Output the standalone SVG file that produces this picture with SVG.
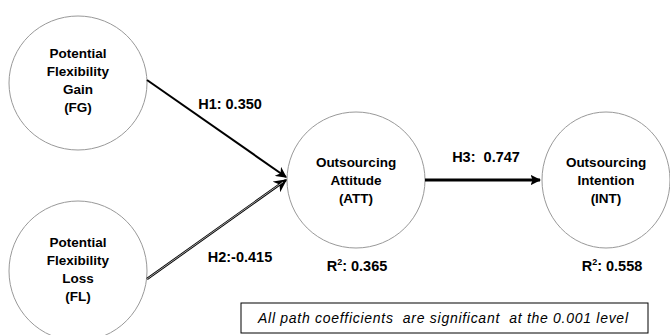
<svg xmlns="http://www.w3.org/2000/svg" width="670" height="335" viewBox="0 0 670 335">
<defs>
<marker id="ah" viewBox="0 0 10 10" refX="9" refY="5" markerWidth="5.5" markerHeight="5.5" orient="auto" markerUnits="strokeWidth">
<path d="M0,0 L10,5 L0,10 L3,5 Z" fill="#000"/>
</marker>
<marker id="ah3" viewBox="0 0 10 10" refX="9" refY="5" markerWidth="3.5" markerHeight="3.5" orient="auto" markerUnits="strokeWidth">
<path d="M0,0 L10,5 L0,10 L2,5 Z" fill="#000"/>
</marker>
</defs>
<style>
.node{fill:#fff;stroke:#999;stroke-width:1}
.nt{font-family:"Liberation Sans",Arial,sans-serif;font-weight:bold;font-size:13.5px;text-anchor:middle;fill:#000}
.lb{font-family:"Liberation Sans",Arial,sans-serif;font-weight:bold;font-size:14.5px;text-anchor:middle;fill:#000}
.note{font-family:"Liberation Sans",Arial,sans-serif;font-style:italic;font-size:14px;fill:#000}
</style>
<rect width="670" height="335" fill="#fff"/>
<g id="FG">
<ellipse class="node" cx="78" cy="83" rx="69" ry="67"/>
<text class="nt" x="78" y="58">Potential</text>
<text class="nt" x="78" y="76">Flexibility</text>
<text class="nt" x="78" y="94">Gain</text>
<text class="nt" x="78" y="112">(FG)</text>
</g>
<g id="FL">
<ellipse class="node" cx="78" cy="271" rx="69" ry="70"/>
<text class="nt" x="78" y="247">Potential</text>
<text class="nt" x="78" y="265">Flexibility</text>
<text class="nt" x="78" y="283">Loss</text>
<text class="nt" x="78" y="301">(FL)</text>
</g>
<g id="ATT">
<ellipse class="node" cx="356" cy="180" rx="69" ry="68"/>
<text class="nt" x="356" y="167">Outsourcing</text>
<text class="nt" x="356" y="185">Attitude</text>
<text class="nt" x="356" y="203">(ATT)</text>
</g>
<g id="INT">
<ellipse class="node" cx="606" cy="180" rx="64" ry="68"/>
<text class="nt" x="606" y="167">Outsourcing</text>
<text class="nt" x="606" y="185">Intention</text>
<text class="nt" x="606" y="203">(INT)</text>
</g>
<g id="connectors" fill="none">
<line x1="147" y1="80" x2="286" y2="177" stroke="#000" stroke-width="2" marker-end="url(#ah)"/>
<line x1="147" y1="279" x2="286" y2="180" stroke="#000" stroke-width="2.4" marker-end="url(#ah)"/>
<line x1="147" y1="279" x2="283" y2="182" stroke="#ccc" stroke-width="0.8"/>
<line x1="425" y1="180" x2="540" y2="180" stroke="#000" stroke-width="3" marker-end="url(#ah3)"/>
</g>
<g id="labels">
<text class="lb" x="230" y="109">H1: 0.350</text>
<text class="lb" x="240" y="262">H2:-0.415</text>
<text class="lb" x="486" y="162" xml:space="preserve">H3:  0.747</text>
<text class="lb" x="357" y="271">R<tspan font-size="9" dy="-6">2</tspan><tspan dy="6">: 0.365</tspan></text>
<text class="lb" x="612" y="271">R<tspan font-size="9" dy="-6">2</tspan><tspan dy="6">: 0.558</tspan></text>
</g>
<g id="note">
<rect x="241" y="303" width="407" height="30" fill="#fff" stroke="#000" stroke-width="1"/>
<text class="note" x="258" y="323" xml:space="preserve" textLength="370" lengthAdjust="spacing">All path coefficients  are significant  at the 0.001 level</text>
</g>
</svg>
